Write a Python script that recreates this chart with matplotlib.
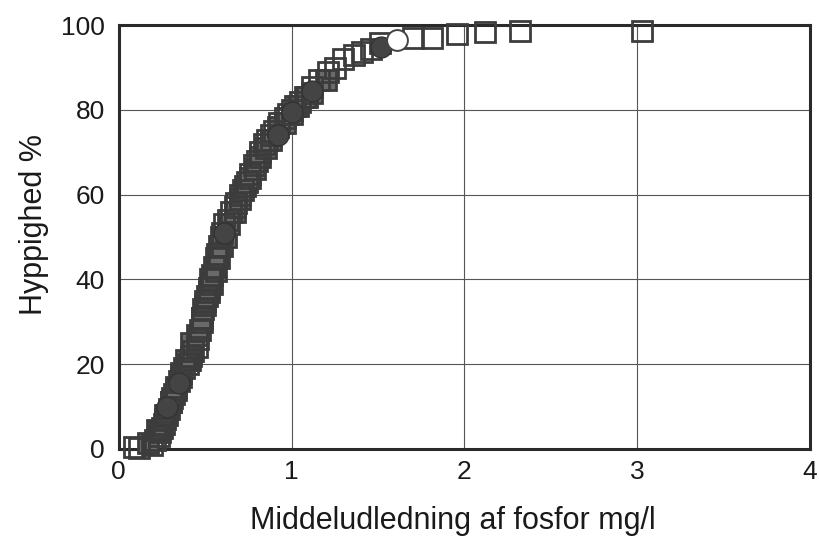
import matplotlib
matplotlib.use("Agg")
import matplotlib.pyplot as plt

plt.rcParams['font.family'] = ['Liberation Sans', 'DejaVu Sans']

# Open squares: observed cumulative frequency
sq_x = [0.09, 0.12, 0.19, 0.21, 0.23, 0.24, 0.25, 0.26, 0.27, 0.28, 0.29, 0.30,
        0.31, 0.32, 0.33, 0.35, 0.36, 0.38, 0.40, 0.41, 0.42, 0.43, 0.45, 0.46,
        0.47, 0.48, 0.48, 0.49, 0.50, 0.51, 0.52, 0.53, 0.54, 0.55, 0.56, 0.57,
        0.58, 0.59, 0.60, 0.61, 0.63, 0.65, 0.67, 0.68, 0.70, 0.72, 0.74, 0.76,
        0.78, 0.80, 0.82, 0.84, 0.86, 0.88, 0.90, 0.93, 0.96, 0.98, 1.00, 1.02,
        1.05, 1.09, 1.12, 1.16, 1.21, 1.25, 1.30, 1.36, 1.41, 1.46, 1.51, 1.70,
        1.81, 1.96, 2.12, 2.32, 3.03]
sq_y = [0.5, 0.3, 1.0, 2.0, 3.0, 4.0, 5.0, 6.0, 7.0, 8.0, 9.5, 11.0,
        12.0, 13.0, 14.0, 16.0, 17.0, 19.0, 20.0, 21.0, 22.0, 23.0, 24.0, 26.0,
        28.0, 30.0, 31.0, 33.0, 35.0, 36.0, 38.0, 40.0, 41.0, 43.0, 45.0, 46.0,
        48.0, 50.0, 51.0, 53.0, 54.0, 56.0, 57.0, 58.0, 60.0, 61.0, 63.0, 65.0,
        67.0, 68.0, 70.0, 72.0, 73.0, 74.0, 75.0, 77.0, 78.0, 79.0, 80.0, 81.0,
        82.0, 83.0, 85.5, 87.0, 89.0, 90.0, 92.0, 93.0, 93.8, 94.5, 95.7, 97.0,
        97.1, 97.9, 98.3, 98.6, 98.6]

# Second group of squares (dense band, overlapping)
sq2_x = [0.17, 0.22, 0.27, 0.30, 0.33, 0.36, 0.39, 0.42, 0.45, 0.48, 0.50,
         0.52, 0.54, 0.56, 0.58, 0.60, 0.62, 0.64, 0.67, 0.70, 0.73, 0.76,
         0.79, 0.82, 0.85, 0.88, 0.92, 0.96, 1.00, 1.04, 1.08, 1.12, 1.20]
sq2_y = [1.5, 4.5, 8.0, 11.0, 14.5, 18.0, 21.0, 25.0, 27.0, 31.0, 34.0,
         37.0, 39.0, 42.0, 45.0, 48.0, 50.0, 53.0, 56.0, 59.0, 62.0, 64.0,
         66.0, 69.0, 71.0, 73.0, 76.0, 77.0, 79.0, 81.0, 83.0, 84.0, 87.0]

# Filled circles
ci_x = [0.28, 0.35, 0.61, 0.92, 1.00, 1.12, 1.52]
ci_y = [10.0, 15.5, 51.0, 74.0, 79.5, 84.5, 94.8]

# Open circle
oc_x = [1.61]
oc_y = [96.5]

fig = plt.figure(figsize=(8.19, 5.37), dpi=100)
ax = fig.add_axes([0.145, 0.164, 0.844, 0.789])

ax.plot(sq2_x, sq2_y, linestyle='none', marker='s', markersize=14,
        markerfacecolor='#6a6a6a', markeredgecolor='#3c3c3c',
        markeredgewidth=2.0, clip_on=False, zorder=3)
ax.plot(sq_x, sq_y, linestyle='none', marker='s', markersize=14,
        markerfacecolor='none', markeredgecolor='#3c3c3c',
        markeredgewidth=2.0, clip_on=False, zorder=3)
ax.plot(ci_x, ci_y, linestyle='none', marker='o', markersize=15,
        markerfacecolor='#444444', markeredgecolor='#333333', markeredgewidth=1.0,
        clip_on=False, zorder=4)
ax.plot(oc_x, oc_y, linestyle='none', marker='o', markersize=15,
        markerfacecolor='white', markeredgecolor='#444444', markeredgewidth=1.4,
        clip_on=False, zorder=4)

ax.set_xlim(0, 4)
ax.set_ylim(0, 100)
ax.set_xticks([0, 1, 2, 3, 4])
ax.set_yticks([0, 20, 40, 60, 80, 100])
ax.grid(True, color='#555555', linewidth=0.8)
ax.set_axisbelow(True)
ax.tick_params(length=0, labelsize=19, colors='#1a1a1a')
ax.tick_params(axis='x', pad=8)
ax.tick_params(axis='y', pad=10)
for s in ax.spines.values():
    s.set_linewidth(2.2)
    s.set_color('#2a2a2a')

ax.set_xlabel('Middeludledning af fosfor mg/l', fontsize=22, color='#1a1a1a')
ax.set_ylabel('Hyppighed %', fontsize=22, color='#1a1a1a')
ax.xaxis.set_label_coords(0.483, -0.135)
ax.yaxis.set_label_coords(-0.101, 0.53)

fig.savefig('out.png', dpi=100, facecolor='white')
